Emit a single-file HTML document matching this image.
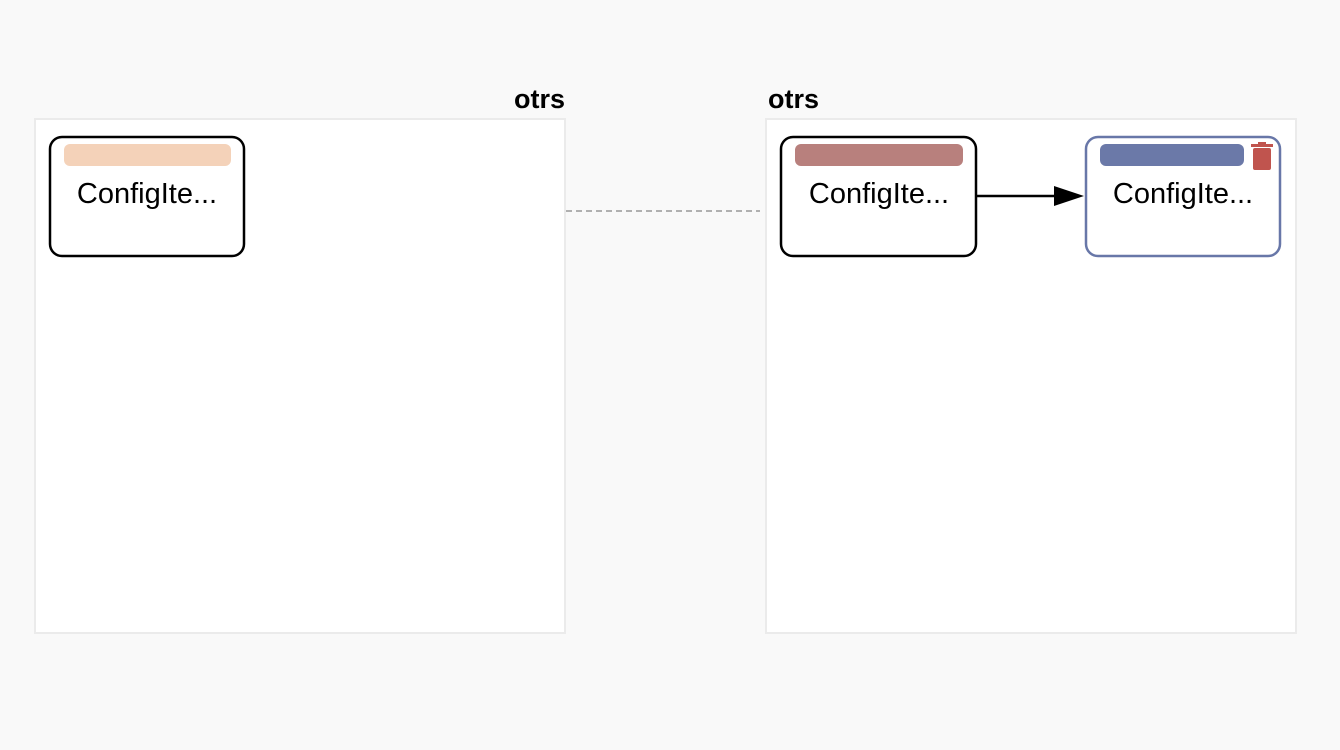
<!DOCTYPE html>
<html><head><style>body{margin:0;background:#f9f9f9;}</style></head><body>
<svg width="1340" height="750" xmlns="http://www.w3.org/2000/svg" style="display:block">
<rect width="1340" height="750" fill="#f9f9f9"/>
<rect x="35" y="119" width="530" height="514" fill="#fff" stroke="#ebebeb" stroke-width="2"/>
<rect x="766" y="119" width="530" height="514" fill="#fff" stroke="#ebebeb" stroke-width="2"/>
<text x="565" y="108" text-anchor="end" font-family="Liberation Sans, sans-serif" font-weight="bold" font-size="27">otrs</text>
<text x="768" y="108" font-family="Liberation Sans, sans-serif" font-weight="bold" font-size="27">otrs</text>
<line x1="566" y1="211" x2="760" y2="211" stroke="#666" stroke-width="1" stroke-dasharray="6,4"/>
<rect x="50" y="137" width="194" height="119" rx="12" fill="#fff" stroke="#000" stroke-width="2.5"/>
<rect x="64" y="144" width="167" height="22" rx="6" fill="#f4d2b9"/>
<text x="147" y="203" text-anchor="middle" font-family="Liberation Sans, sans-serif" font-size="29">ConfigIte...</text>
<rect x="781" y="137" width="195" height="119" rx="12" fill="#fff" stroke="#000" stroke-width="2.5"/>
<rect x="795" y="144" width="168" height="22" rx="6" fill="#b8807d"/>
<text x="879" y="203" text-anchor="middle" font-family="Liberation Sans, sans-serif" font-size="29">ConfigIte...</text>
<rect x="1086" y="137" width="194" height="119" rx="12" fill="#fff" stroke="#6877a8" stroke-width="2.5"/>
<rect x="1100" y="144" width="144" height="22" rx="6" fill="#6b79a8"/>
<rect x="1253" y="148" width="18" height="22" rx="2" fill="#c0544e"/>
<rect x="1251" y="144" width="22" height="3" fill="#c0544e"/>
<rect x="1258" y="142" width="8" height="3" fill="#c0544e"/>
<text x="1183" y="203" text-anchor="middle" font-family="Liberation Sans, sans-serif" font-size="29">ConfigIte...</text>
<line x1="977" y1="196" x2="1055" y2="196" stroke="#000" stroke-width="2.5"/>
<polygon points="1084,196 1054,186 1054,206" fill="#000"/>
</svg>
</body></html>
